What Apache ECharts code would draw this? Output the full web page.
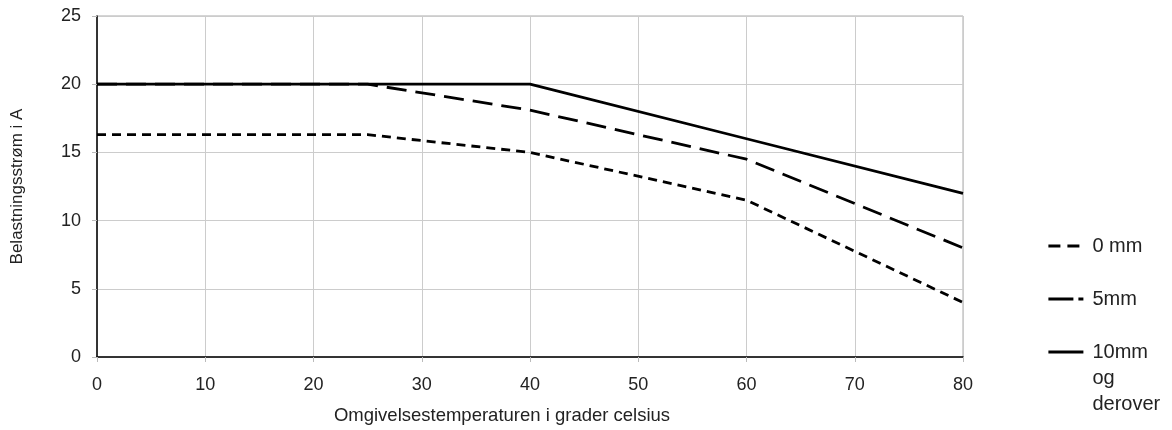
<!DOCTYPE html>
<html>
<head>
<meta charset="utf-8">
<script src="https://cdn.jsdelivr.net/npm/echarts@6/dist/echarts.min.js"></script>
<style>
  html, body { margin: 0; padding: 0; background: #fff; }
  #chart { width: 1172px; height: 430px; }
</style>
</head>
<body>
<div id="chart"></div>
<script>
// temperaturer (x) og strøm (y)
var temps = [0, 25, 40, 60, 80];
var mm0 = [16.3, 16.3, 15, 11.5, 4];
var mm5 = [20, 20, 18.1, 14.5, 8];
var mm10 = [20, 20, 20, 16, 12];
var seriesNames = ["0 mm", "5mm", "10mm og derover"];

function pairs(ys) {
  return temps.map(function (t, i) { return [t, ys[i]]; });
}

var myChart = echarts.init(document.getElementById("chart"));
var font = "'Liberation Sans', Arial, sans-serif";

// en legende per serie, så hver kan plasseres for seg
function legendFor(name, top, dash) {
  return {
    data: [name],
    orient: "vertical",
    left: 1047,
    top: top,
    padding: 0,
    itemWidth: 35,
    itemHeight: 14,
    itemStyle: { opacity: 0 },
    lineStyle: { type: dash, width: 2.8, color: "#000" },
    formatter: function (n) {
      // to tomme linjer først, så "10mm" havner midt på ikonet
      return n === seriesNames[2] ? "\n\n10mm\nog\nderover" : n;
    },
    textStyle: {
      fontFamily: font,
      fontSize: 20,
      color: "#222",
      lineHeight: 26,
      padding: [0, 0, 0, 4],
    },
  };
}

var option = {
  animation: false,
  grid: {
    left: 97,
    right: 209,
    top: 16,
    bottom: 70,
    show: true,
    borderColor: "#aaa",
    borderWidth: 1,
  },
  legend: [
    legendFor(seriesNames[0], 233, [12, 7]),
    legendFor(seriesNames[1], 286, [25, 5]),
    legendFor(seriesNames[2], 287, "solid"),
  ],
  xAxis: {
    type: "value",
    min: 0,
    max: 80,
    interval: 10,
    name: "Omgivelsestemperaturen i grader celsius",
    nameLocation: "middle",
    nameGap: 49,
    nameTextStyle: { fontFamily: font, fontSize: 18.5, color: "#222", padding: [0, 56, 0, 0] },
    axisLine: { lineStyle: { color: "#000", width: 1.5 } },
    axisTick: { show: true, length: 5, lineStyle: { color: "#bbb" } },
    axisLabel: { fontFamily: font, fontSize: 18, color: "#222", margin: 19 },
    splitLine: { lineStyle: { color: "#ccc" } },
  },
  yAxis: {
    type: "value",
    min: 0,
    max: 25,
    interval: 5,
    name: "Belastningsstrøm i A",
    nameLocation: "middle",
    nameGap: 71,
    nameTextStyle: { fontFamily: font, fontSize: 17, color: "#222" },
    axisLine: { show: true, lineStyle: { color: "#000", width: 1.5 } },
    axisTick: { show: true, length: 5, lineStyle: { color: "#bbb" } },
    axisLabel: { fontFamily: font, fontSize: 18, color: "#222", margin: 16 },
    splitLine: { lineStyle: { color: "#ccc" } },
  },
  series: [
    {
      name: seriesNames[2],
      type: "line",
      symbol: "none",
      data: pairs(mm10),
      lineStyle: { color: "#000", width: 2.8, type: "solid" },
      itemStyle: { color: "#000" },
    },
    {
      name: seriesNames[1],
      type: "line",
      symbol: "none",
      data: pairs(mm5),
      lineStyle: { color: "#000", width: 2.8, type: [20, 9] },
      itemStyle: { color: "#000" },
    },
    {
      name: seriesNames[0],
      type: "line",
      symbol: "none",
      data: pairs(mm0),
      lineStyle: { color: "#000", width: 2.8, type: [9, 6] },
      itemStyle: { color: "#000" },
    },
  ],
};
myChart.setOption(option);
</script>
</body>
</html>
